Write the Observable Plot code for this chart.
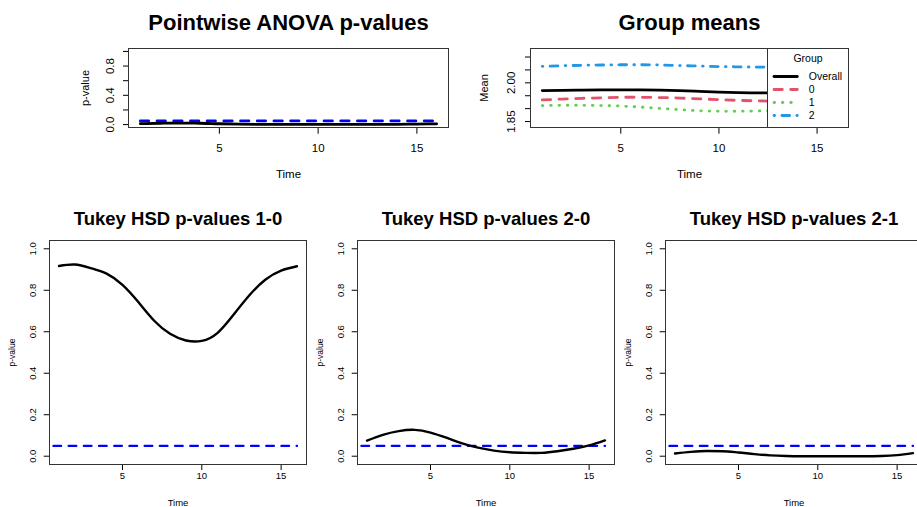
<!DOCTYPE html>
<html><head><meta charset="utf-8">
<script src="https://cdn.jsdelivr.net/npm/d3@7"></script>
<script src="https://cdn.jsdelivr.net/npm/@observablehq/plot@0.6"></script>
<style>
html,body{margin:0;padding:0;background:#fff;}
#chart{position:relative;width:917px;height:507px;overflow:hidden;background:#fff;}
#chart svg{position:absolute;}
</style></head><body><div id="chart"></div>
<script>
// ---------- data ----------
const time = [1,2,3,4,5,6,7,8,9,10,11,12,13,14,15,16];
const anovaP  = [0.012,0.018,0.020,0.018,0.011,0.006,0.003,0.002,0.002,0.002,0.002,0.002,0.003,0.004,0.006,0.010];
const tukey10 = [0.917,0.924,0.907,0.880,0.826,0.743,0.653,0.590,0.558,0.556,0.595,0.682,0.776,0.851,0.895,0.916];
const tukey20 = [0.075,0.103,0.121,0.127,0.114,0.089,0.062,0.041,0.027,0.019,0.016,0.016,0.024,0.036,0.052,0.076];
const tukey21 = [0.013,0.021,0.025,0.024,0.018,0.010,0.004,0.001,0.000,0.000,0.000,0.000,0.000,0.001,0.005,0.015];
const alpha = 0.05;
const alphaSpanTop = [1, 16];
const alphaSpanBottom = [0.65, 16];
const meanOverall = [1.970,1.971,1.972,1.973,1.973,1.973,1.972,1.970,1.967,1.964,1.962,1.961,1.961,1.961,1.962,1.963];
const mean0 = [1.934,1.937,1.940,1.942,1.944,1.944,1.943,1.941,1.938,1.935,1.932,1.930,1.929,1.929,1.930,1.931];
const mean1 = [1.912,1.913,1.913,1.912,1.910,1.906,1.901,1.896,1.892,1.890,1.890,1.891,1.893,1.895,1.897,1.899];
const mean2 = [2.064,2.066,2.068,2.069,2.070,2.070,2.069,2.067,2.065,2.063,2.062,2.061,2.061,2.061,2.062,2.063];
const groups = ["Overall","0","1","2"];
const groupColors = ["#000000","#DF536B","#61D04F","#2297E6"];
const groupDash = [null,"8.35,8.35","0.6,7.75","0.6,7.3,7.7,7.3"];
const legendTitle = "Group";
const xTicks = [5,10,15];
const pTicks = [0,0.2,0.4,0.6,0.8,1.0];
const pTickLabelsTop = [0,0.4,0.8];
const meanTicks = [1.85,1.90,1.95,2.00,2.05,2.10];
const meanTickLabels = [1.85,2.00];
const titles = ["Pointwise ANOVA p-values","Group means","Tukey HSD p-values 1-0","Tukey HSD p-values 2-0","Tukey HSD p-values 2-1"];

// ---------- helpers ----------
const chart = document.getElementById("chart");
const font = "'Liberation Sans', Arial, Helvetica, sans-serif";
function place(svg, left, top) { svg.style.left = left + "px"; svg.style.top = top + "px"; chart.appendChild(svg); }
const series = (vals) => time.map((t, i) => ({t, v: vals[i]}));
const hline = (span) => span.map(t => ({t, v: alpha}));
const f1 = d3.format(".1f"), f2 = d3.format(".2f");
const mid = {textAnchor: "middle", lineAnchor: "middle"};

// ---------- top left: ANOVA ----------
place(Plot.plot({
  width: 460, height: 190,
  marginLeft: 128, marginRight: 12, marginTop: 48, marginBottom: 63,
  style: {fontFamily: font, fontSize: "11.5px", background: "white", color: "black"},
  x: {domain: [0.4, 16.6]}, y: {domain: [-0.04, 1.04]},
  marks: [
    Plot.axisX({ticks: xTicks, tickSize: 6.7, tickPadding: 9.6, label: null}),
    Plot.axisY({ticks: pTicks, tickSize: 5, tickFormat: () => "", label: null}),
    Plot.text(pTickLabelsTop, {y: d => d, text: d => f1(d), frameAnchor: "left", dx: -18.3, rotate: -90, ...mid}),
    Plot.text(["p-value"], {frameAnchor: "left", dx: -43, rotate: -90, fontSize: 11, ...mid}),
    Plot.text(["Time"], {frameAnchor: "bottom", dy: 46.7, ...mid}),
    Plot.text([titles[0]], {frameAnchor: "top", dy: -18.5, textAnchor: "middle", lineAnchor: "bottom", fontSize: 22, fontWeight: "bold"}),
    Plot.line(hline(alphaSpanTop), {x: "t", y: "v", stroke: "blue", strokeWidth: 2.8, strokeDasharray: "8.35,8.35", strokeLinecap: "round"}),
    Plot.line(series(anovaP), {x: "t", y: "v", stroke: "black", strokeWidth: 2.8, curve: "monotone-x"}),
    Plot.frame({stroke: "#333"})
  ]
}), 0, 0);

// ---------- top right: group means ----------
const meanSeries = [meanOverall, mean0, mean1, mean2];
place(Plot.plot({
  width: 457, height: 190,
  marginLeft: 70, marginRight: 69, marginTop: 48, marginBottom: 63,
  style: {fontFamily: font, fontSize: "11.5px", background: "white", color: "black"},
  x: {domain: [0.4, 16.6]}, y: {domain: [1.827, 2.133]},
  marks: [
    Plot.axisX({ticks: xTicks, tickSize: 6.7, tickPadding: 9.6, label: null}),
    Plot.axisY({ticks: meanTicks, tickSize: 5, tickFormat: () => "", label: null}),
    Plot.text(meanTickLabels, {y: d => d, text: d => f2(d), frameAnchor: "left", dx: -19.3, rotate: -90, ...mid}),
    Plot.text(["Mean"], {frameAnchor: "left", dx: -46, rotate: -90, fontSize: 11, ...mid}),
    Plot.text(["Time"], {frameAnchor: "bottom", dy: 47, ...mid}),
    Plot.text([titles[1]], {frameAnchor: "top", dy: -18.7, textAnchor: "middle", lineAnchor: "bottom", fontSize: 22, fontWeight: "bold"}),
    ...meanSeries.map((vals, i) => Plot.line(series(vals), {
      x: "t", y: "v", stroke: groupColors[i], strokeWidth: 2.8, curve: "natural",
      strokeDasharray: groupDash[i], strokeLinecap: "round"
    })),
    Plot.frame({stroke: "#333"})
  ]
}), 460, 0);

// ---------- legend ----------
place(Plot.plot({
  width: 82, height: 80,
  marginLeft: 0, marginRight: 1, marginTop: 0, marginBottom: 1,
  style: {fontFamily: font, fontSize: "10.5px", background: "white", color: "black"},
  x: {domain: [0, 81], axis: null},
  y: {type: "point", domain: groups, range: [27, 68], padding: 0, axis: null},
  marks: [
    Plot.frame({stroke: "#333", fill: "white"}),
    Plot.text([legendTitle], {frameAnchor: "top", dy: 10.3, ...mid}),
    ...groups.map((g, i) => Plot.ruleY([g], {
      y: d => d, x1: () => 7, x2: () => 30.3, stroke: groupColors[i], strokeWidth: 2.8,
      strokeDasharray: groupDash[i], strokeLinecap: "round"
    })),
    Plot.text(groups, {y: d => d, x: () => 41.3, textAnchor: "start", lineAnchor: "middle"})
  ]
}), 767, 48);

// ---------- bottom: Tukey panels ----------
function tukeyPanel(title, values, curve) {
  return Plot.plot({
    width: 308, height: 317,
    marginLeft: 49, marginRight: 2, marginTop: 50, marginBottom: 43,
    style: {fontFamily: font, fontSize: "9.5px", background: "white", color: "black"},
    x: {domain: [0.4, 16.6]}, y: {domain: [-0.04, 1.04]},
    marks: [
      Plot.axisX({ticks: xTicks, tickSize: 6, tickPadding: 2, label: null}),
      Plot.axisY({ticks: pTicks, tickSize: 5.3, tickFormat: () => "", label: null}),
      Plot.text(pTicks, {y: d => d, text: d => f1(d), frameAnchor: "left", dx: -17, rotate: -90, ...mid}),
      Plot.text(["p-value"], {frameAnchor: "left", dx: -37, rotate: -90, fontSize: 8.5, ...mid}),
      Plot.text(["Time"], {frameAnchor: "bottom", dy: 38.6, ...mid}),
      Plot.text([title], {frameAnchor: "top", dy: -15.5, textAnchor: "middle", lineAnchor: "bottom", fontSize: 18.5, fontWeight: "bold"}),
      Plot.line(hline(alphaSpanBottom), {x: "t", y: "v", stroke: "blue", strokeWidth: 2.4, strokeDasharray: "7.6,7.6", strokeLinecap: "round"}),
      Plot.line(series(values), {x: "t", y: "v", stroke: "black", strokeWidth: 2.4, curve}),
      Plot.frame({stroke: "#333"})
    ]
  });
}
place(tukeyPanel(titles[2], tukey10, "natural"), 0, 190);
place(tukeyPanel(titles[3], tukey20, "natural"), 308, 190);
place(tukeyPanel(titles[4], tukey21, "monotone-x"), 616, 190);
</script></body></html>
